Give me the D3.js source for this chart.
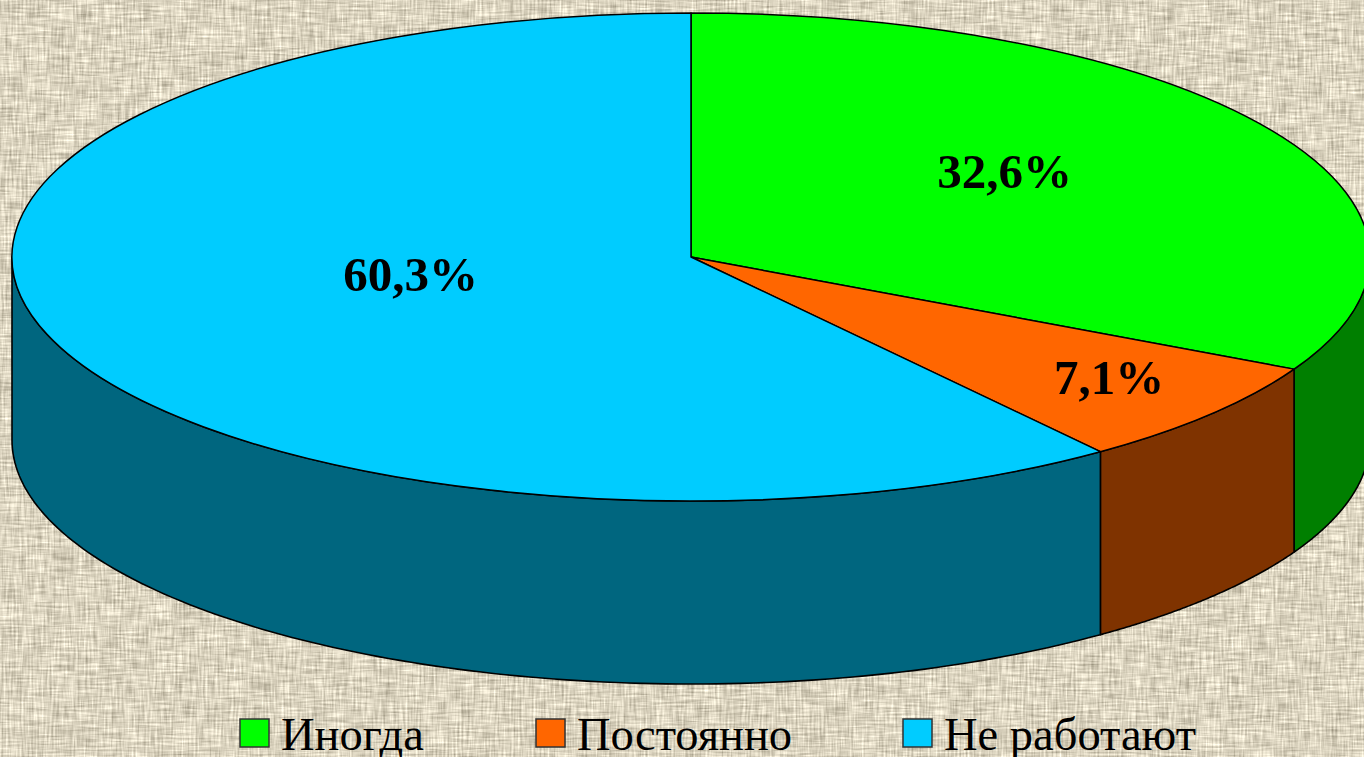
<!DOCTYPE html>
<html><head><meta charset="utf-8">
<style>html,body{margin:0;padding:0;overflow:hidden;background:#dcd4bd}svg{display:block}</style>
<script src="https://cdnjs.cloudflare.com/ajax/libs/d3/7.8.5/d3.min.js"></script>
</head><body>
<script>
const categories = ["Иногда", "Постоянно", "Не работают"];
const values = [32.6, 7.1, 60.3];
const labels = ["32,6%", "7,1%", "60,3%"];
const topColors = ["#00ff00", "#ff6600", "#00ccff"];
const sideColors = ["#007f00", "#7f3300", "#00667f"];

const W = 1364, H = 757, cx = 691, cy = 257, rx = 679, ry = 244, depth = 183;
const svg = d3.select("body").append("svg").attr("width", W).attr("height", H);

// woven paper background
const defs = svg.append("defs");
const f = defs.append("filter").attr("id", "weave").attr("x", 0).attr("y", 0).attr("width", "100%").attr("height", "100%")
  .attr("color-interpolation-filters", "sRGB");
const gray = "1 0 0 0 0  1 0 0 0 0  1 0 0 0 0  0 0 0 0 1";
f.append("feTurbulence").attr("type", "fractalNoise").attr("baseFrequency", "0.04 0.5").attr("numOctaves", 2).attr("seed", 4).attr("result", "h0");
f.append("feColorMatrix").attr("in", "h0").attr("type", "matrix").attr("values", gray).attr("result", "h");
f.append("feTurbulence").attr("type", "fractalNoise").attr("baseFrequency", "0.5 0.04").attr("numOctaves", 2).attr("seed", 9).attr("result", "v0");
f.append("feColorMatrix").attr("in", "v0").attr("type", "matrix").attr("values", gray).attr("result", "v");
f.append("feComposite").attr("in", "h").attr("in2", "v").attr("operator", "arithmetic")
  .attr("k1", 0).attr("k2", 0.5).attr("k3", 0.5).attr("k4", 0).attr("result", "m");
f.append("feColorMatrix").attr("in", "m").attr("type", "matrix").attr("values",
  "0.75 0 0 0 0.485  0.75 0 0 0 0.455  0.75 0 0 0 0.375  0 0 0 0 1");
svg.append("rect").attr("width", W).attr("height", H).attr("fill", "#dcd4bd").attr("filter", "url(#weave)");

const pie = d3.pie().sort(null).value(d => d);
const slices = pie(values);
const px = a => cx + rx * Math.sin(a), py = a => cy - ry * Math.cos(a);
const line = d3.line();

// side wall, only the front half of the rim shows
const frontA = Math.PI / 2, frontB = Math.PI * 1.5;
slices.forEach((s, i) => {
  const a0 = Math.max(s.startAngle, frontA), a1 = Math.min(s.endAngle, frontB);
  if (a1 <= a0) return;
  const top = d3.range(0, 121).map(k => a0 + (a1 - a0) * k / 120);
  const pts = top.map(a => [px(a), py(a)]).concat(top.slice().reverse().map(a => [px(a), py(a) + depth]));
  svg.append("path").attr("d", line(pts) + "Z").attr("fill", sideColors[i])
    .attr("stroke", "#000").attr("stroke-width", 1.6).attr("stroke-linejoin", "round");
});

// top face
const arc = d3.arc().innerRadius(0).outerRadius(rx);
const g = svg.append("g").attr("transform", `translate(${cx},${cy}) scale(1,${ry / rx})`);
g.selectAll("path").data(slices).join("path").attr("d", arc)
  .attr("fill", (d, i) => topColors[i]).attr("stroke", "#000").attr("stroke-width", 1.5)
  .attr("vector-effect", "non-scaling-stroke").attr("stroke-linejoin", "round");

// data labels
const labelPos = [[1004.5, 188], [1109, 394], [410.5, 291]];
svg.selectAll("text.val").data(labels).join("text").attr("class", "val")
  .attr("x", (d, i) => labelPos[i][0]).attr("y", (d, i) => labelPos[i][1])
  .attr("text-anchor", "middle").attr("font-family", "'Liberation Serif'").attr("font-weight", "bold")
  .attr("font-size", 49).attr("fill", "#000").text(d => d);

// legend
const legendX = [240, 536, 903];
const lg = svg.selectAll("g.lg").data(categories).join("g").attr("class", "lg")
  .attr("transform", (d, i) => `translate(${legendX[i]},0)`);
lg.append("rect").attr("x", 0).attr("y", 719).attr("width", 29).attr("height", 28)
  .attr("fill", (d, i) => topColors[i]).attr("stroke", "#333").attr("stroke-width", 1.5);
lg.append("text").attr("x", 41).attr("y", 750).attr("font-family", "'Liberation Serif'")
  .attr("font-size", 46.5).attr("fill", "#000").text(d => d);
</script>
</body></html>
